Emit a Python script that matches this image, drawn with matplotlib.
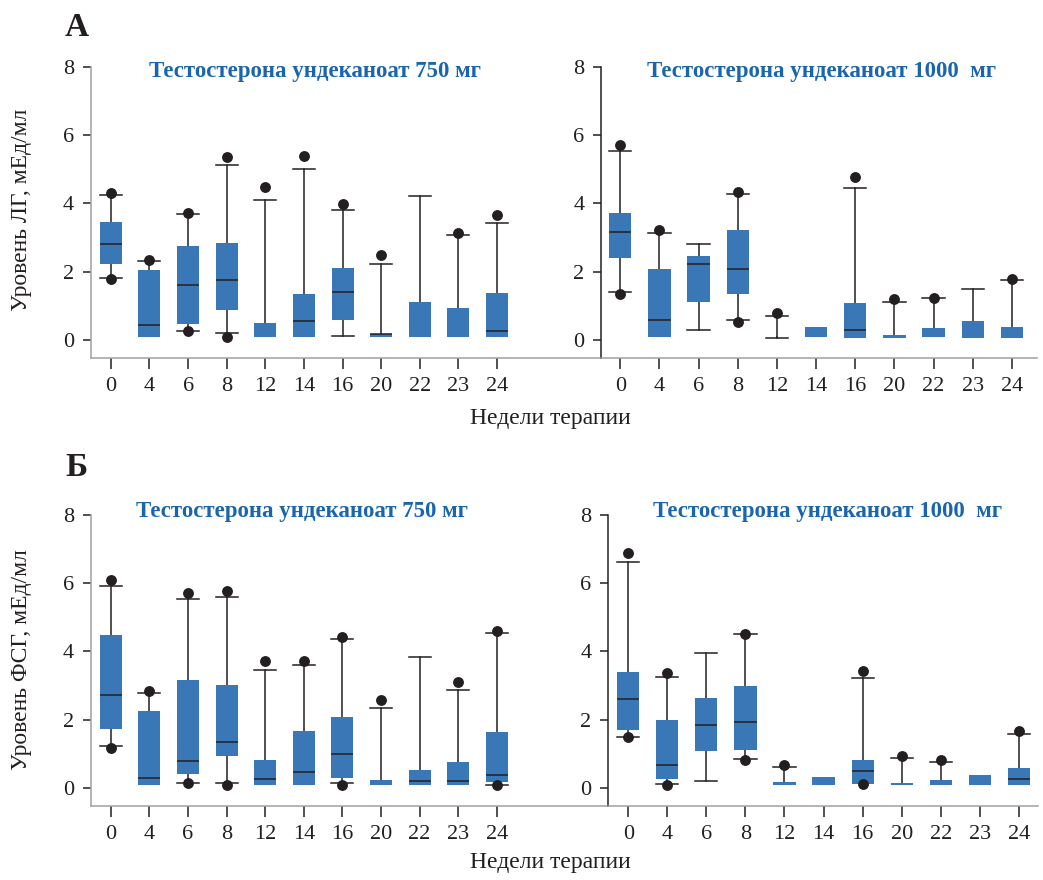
import numpy as np
import matplotlib
matplotlib.use("Agg")
import matplotlib.pyplot as plt

plt.rcParams['font.family'] = ['Liberation Serif', 'DejaVu Serif']

nan = np.nan
weeks = ['0', '4', '6', '8', '12', '14', '16', '20', '22', '23', '24']

# ЛГ, 750 мг
lh750_whi = [4.23, 2.30, 3.68, 5.11, 4.09, 5.00, 3.80, 2.21, 4.20, 3.06, 3.41]
lh750_q3 = [3.45, 2.05, 2.75, 2.83, 0.50, 1.35, 2.11, 0.18, 1.11, 0.94, 1.38]
lh750_med = [2.80, 0.44, 1.60, 1.75, nan, 0.55, 1.40, 0.16, nan, nan, 0.25]
lh750_q1 = [2.23, 0.10, 0.48, 0.89, 0.10, 0.10, 0.57, 0.10, 0.10, 0.10, 0.10]
lh750_wlo = [1.82, 0.10, 0.25, 0.20, 0.10, 0.10, 0.11, 0.10, 0.10, 0.10, 0.10]
lh750_dhi = [4.29, 2.35, 3.73, 5.36, 4.48, 5.40, 3.98, 2.48, nan, 3.14, 3.66]
lh750_dlo = [1.78, nan, 0.25, 0.10, nan, nan, nan, nan, nan, nan, nan]

# ЛГ, 1000 мг
lh1000_whi = [5.52, 3.12, 2.80, 4.26, 0.69, 0.38, 4.44, 1.10, 1.22, 1.48, 1.75]
lh1000_q3 = [3.72, 2.08, 2.46, 3.22, 0.08, 0.38, 1.08, 0.15, 0.35, 0.56, 0.38]
lh1000_med = [3.15, 0.58, 2.21, 2.08, nan, nan, 0.28, nan, nan, nan, nan]
lh1000_q1 = [2.41, 0.10, 1.12, 1.36, 0.08, 0.10, 0.07, 0.07, 0.10, 0.07, 0.07]
lh1000_wlo = [1.40, 0.10, 0.28, 0.58, 0.07, 0.10, 0.07, 0.07, 0.10, 0.07, 0.07]
lh1000_dhi = [5.70, 3.22, nan, 4.34, 0.78, nan, 4.78, 1.19, 1.24, nan, 1.79]
lh1000_dlo = [1.34, nan, nan, 0.53, nan, nan, nan, nan, nan, nan, nan]

# ФСГ, 750 мг
fsh750_whi = [5.91, 2.78, 5.53, 5.59, 3.45, 3.60, 4.36, 2.34, 3.83, 2.87, 4.53]
fsh750_q3 = [4.48, 2.26, 3.17, 3.02, 0.83, 1.68, 2.09, 0.24, 0.54, 0.77, 1.65]
fsh750_med = [2.72, 0.29, 0.79, 1.35, 0.26, 0.47, 0.99, nan, 0.20, 0.20, 0.38]
fsh750_q1 = [1.74, 0.08, 0.43, 0.93, 0.08, 0.08, 0.31, 0.08, 0.08, 0.08, 0.19]
fsh750_wlo = [1.23, 0.08, 0.15, 0.15, 0.08, 0.08, 0.15, 0.08, 0.08, 0.08, 0.09]
fsh750_dhi = [6.10, 2.84, 5.72, 5.77, 3.72, 3.72, 4.41, 2.57, nan, 3.11, 4.61]
fsh750_dlo = [1.18, nan, 0.14, 0.10, nan, nan, 0.10, nan, nan, nan, 0.09]

# ФСГ, 1000 мг
fsh1000_whi = [6.61, 3.25, 3.95, 4.50, 0.61, 0.33, 3.22, 0.88, 0.76, 0.39, 1.58]
fsh1000_q3 = [3.40, 2.00, 2.64, 2.99, 0.19, 0.33, 0.83, 0.16, 0.24, 0.39, 0.59]
fsh1000_med = [2.60, 0.68, 1.84, 1.95, nan, nan, 0.50, nan, nan, nan, 0.26]
fsh1000_q1 = [1.69, 0.28, 1.10, 1.13, 0.08, 0.08, 0.11, 0.08, 0.08, 0.08, 0.08]
fsh1000_wlo = [1.49, 0.12, 0.20, 0.85, 0.08, 0.08, 0.11, 0.08, 0.08, 0.08, 0.08]
fsh1000_dhi = [6.89, 3.36, nan, 4.51, 0.67, nan, 3.44, 0.95, 0.82, nan, 1.68]
fsh1000_dlo = [1.49, 0.09, nan, 0.82, nan, nan, 0.12, nan, nan, nan, nan]

BLUE = '#3977b7'
TITLE_BLUE = '#1a66ad'
INK = '#231f20'
GRAY = '#a0a0a0'
W, H = 1043, 880


def panel(ax, whi, q3, med, q1, wlo, dhi, dlo, xlim, left_gray):
    stats = []
    for i in range(len(weeks)):
        stats.append(dict(med=med[i], q1=q1[i], q3=q3[i],
                          whislo=wlo[i], whishi=whi[i], fliers=[]))
    pos = np.arange(len(weeks))
    res = ax.bxp(stats, positions=pos, widths=0.57, capwidths=0.57,
                 patch_artist=True, showfliers=False,
                 boxprops=dict(facecolor=BLUE, edgecolor='none', linewidth=0),
                 medianprops=dict(color=INK, linewidth=1.1),
                 whiskerprops=dict(color=INK, linewidth=1.1),
                 capprops=dict(color=INK, linewidth=1.1))
    # no whisker/cap where whisker length is zero
    for i in range(len(weeks)):
        if wlo[i] >= q1[i]:
            res['whiskers'][2 * i].set_visible(False)
            res['caps'][2 * i].set_visible(False)
        if whi[i] <= q3[i]:
            res['whiskers'][2 * i + 1].set_visible(False)
            res['caps'][2 * i + 1].set_visible(False)
    for b in res['boxes']:
        b.set_zorder(2.5)
    for m in res['medians']:
        m.set_zorder(2.6)
    ax.plot(pos, dhi, 'o', color=INK, ms=6.8, zorder=3, ls='none')
    ax.plot(pos, dlo, 'o', color=INK, ms=6.8, zorder=3, ls='none')

    ax.set_xticks(pos)
    ax.set_xticklabels(weeks)
    ax.set_xlim(*xlim)
    ax.set_ylim(-0.52, 8)
    ax.set_yticks([0, 2, 4, 6, 8])
    ax.set_facecolor('none')
    ax.spines['top'].set_visible(False)
    ax.spines['right'].set_visible(False)
    ax.spines['bottom'].set_color(GRAY)
    ax.spines['left'].set_color(GRAY if left_gray else INK)
    ax.spines['left'].set_linewidth(1.1)
    ax.spines['bottom'].set_linewidth(1.1)
    ax.tick_params(axis='y', length=6, width=1.1, color=INK, pad=6,
                   labelsize=16, labelcolor=INK)
    ax.tick_params(axis='x', length=8, width=1.1, color=INK, pad=6,
                   labelsize=16, labelcolor=INK)


fig = plt.figure(figsize=(10.43, 8.8), dpi=100)

ax1 = fig.add_axes([0.0870, 0.5935, 0.4896, 0.3307])
ax2 = fig.add_axes([0.5765, 0.5935, 0.4177, 0.3307])
ax3 = fig.add_axes([0.0870, 0.0841, 0.4963, 0.3310])
ax4 = fig.add_axes([0.5832, 0.0841, 0.4117, 0.3310])

panel(ax1, lh750_whi, lh750_q3, lh750_med, lh750_q1, lh750_wlo, lh750_dhi, lh750_dlo,
      (-0.52, 12.7), True)
panel(ax2, lh1000_whi, lh1000_q3, lh1000_med, lh1000_q1, lh1000_wlo, lh1000_dhi, lh1000_dlo,
      (-0.485, 10.64), False)
panel(ax3, fsh750_whi, fsh750_q3, fsh750_med, fsh750_q1, fsh750_wlo, fsh750_dhi, fsh750_dlo,
      (-0.52, 12.89), True)
panel(ax4, fsh1000_whi, fsh1000_q3, fsh1000_med, fsh1000_q1, fsh1000_wlo, fsh1000_dhi, fsh1000_dlo,
      (-0.51, 10.48), False)


def ftext(x, y, s, **kw):
    fig.text(x / W, 1 - y / H, s, **kw)


title_kw = dict(ha='center', va='center', fontsize=16.5, fontweight='bold', color=TITLE_BLUE)
ftext(315, 72, 'Тестостерона ундеканоат 750 мг', **title_kw)
ftext(822, 72, 'Тестостерона ундеканоат 1000  мг', **title_kw)
ftext(302, 512, 'Тестостерона ундеканоат 750 мг', **title_kw)
ftext(828, 512, 'Тестостерона ундеканоат 1000  мг', **title_kw)

ftext(550, 418, 'Недели терапии', ha='center', va='center', fontsize=17, color=INK)
ftext(550, 862, 'Недели терапии', ha='center', va='center', fontsize=17, color=INK)
ftext(22, 210, 'Уровень ЛГ, мЕд/мл', rotation=90, ha='center', va='center',
      fontsize=17, color=INK)
ftext(22, 660, 'Уровень ФСГ, мЕд/мл', rotation=90, ha='center', va='center',
      fontsize=17, color=INK)
ftext(65, 27, 'А', ha='left', va='center', fontsize=24, fontweight='bold', color=INK)
ftext(65, 467, 'Б', ha='left', va='center', fontsize=24, fontweight='bold', color=INK)

fig.savefig('out.png', dpi=100)
